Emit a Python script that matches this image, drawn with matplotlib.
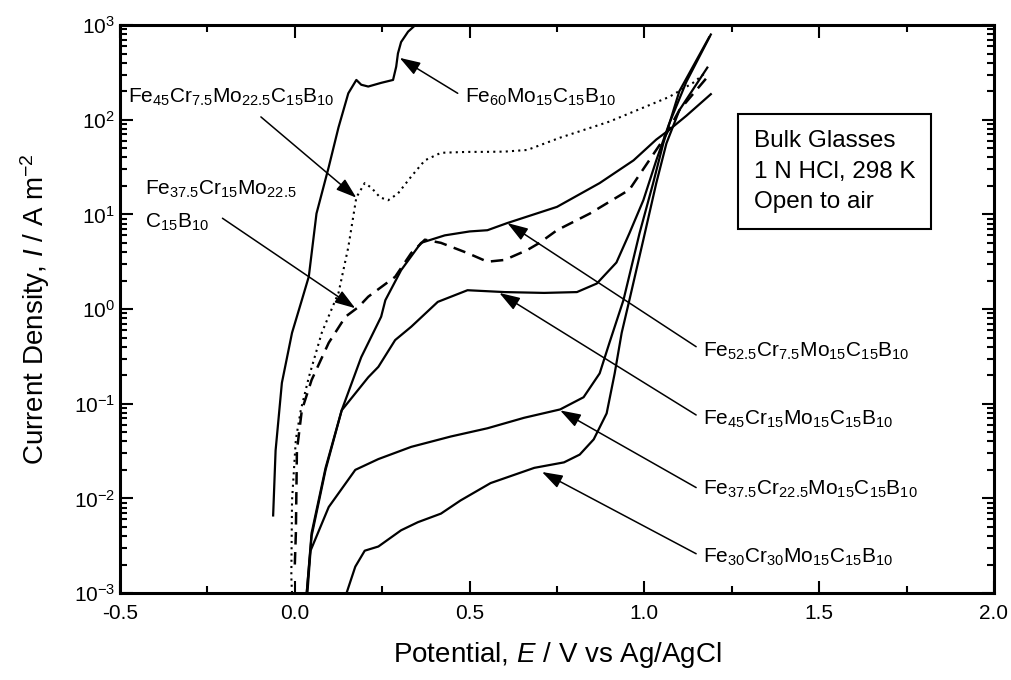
import numpy as np
import matplotlib
matplotlib.use("Agg")
import matplotlib.pyplot as plt
from matplotlib.ticker import LogLocator, MultipleLocator, NullFormatter

plt.rcParams['font.family'] = 'Liberation Sans'
plt.rcParams['mathtext.fontset'] = 'custom'
plt.rcParams['mathtext.rm'] = 'Liberation Sans'
plt.rcParams['mathtext.it'] = 'Liberation Sans:italic'
plt.rcParams['axes.unicode_minus'] = False

# polarization curves: potential E (V vs Ag/AgCl), current density I (A m^-2)
E_fe60 = [-0.062, -0.055, -0.037, -0.008, 0.02, 0.04, 0.062, 0.097, 0.125, 0.153,
          0.176, 0.19, 0.21, 0.247, 0.281, 0.29, 0.295, 0.304, 0.324, 0.345]
I_fe60 = [6.6e-3, 3.2e-2, 0.166, 0.56, 1.24, 2.2, 10.2, 31.6, 83, 190,
          263, 234, 224, 245, 263, 363, 501, 661, 851, 1000]

E_cr75mo225 = [-0.008, -0.01, -0.008, 0.003, 0.017, 0.04, 0.077, 0.116, 0.125, 0.153,
               0.176, 0.20, 0.219, 0.244, 0.267, 0.295, 0.333, 0.372, 0.418, 0.494,
               0.54, 0.60, 0.665, 0.759, 0.90, 1.071, 1.139, 1.176]
I_cr75mo225 = [1e-3, 1.48e-3, 9.5e-3, 4.2e-2, 8.5e-2, 0.19, 0.56, 1.24, 1.48, 4.5,
               15.1, 21.4, 19.1, 15.1, 14.1, 16.6, 25.1, 37.2, 44.7, 45.7,
               45.7, 46.0, 47.9, 64.6, 95.5, 174, 245, 316]

E_cr15mo225 = [0.0, 0.003, 0.006, 0.02, 0.048, 0.097, 0.145, 0.182, 0.21, 0.287,
               0.333, 0.372, 0.418, 0.494, 0.551, 0.60, 0.665, 0.70, 0.75, 0.844,
               0.957, 1.01, 1.054, 1.10, 1.18]
I_cr15mo225 = [2.0e-3, 4.3e-3, 3.2e-2, 8.5e-2, 0.178, 0.44, 0.83, 1.05, 1.35, 2.19,
               3.9, 5.4, 5.0, 3.9, 3.16, 3.3, 4.2, 5.0, 6.8, 10.2,
               18.2, 35.5, 61.7, 126, 282]

E_cr75 = [0.034, 0.048, 0.088, 0.134, 0.19, 0.247, 0.259, 0.304, 0.361, 0.429,
          0.50, 0.551, 0.608, 0.75, 0.872, 0.969, 1.034, 1.07, 1.12, 1.19]
I_cr75 = [1e-3, 4.3e-3, 2.1e-2, 8.5e-2, 0.31, 0.83, 1.24, 2.57, 5.0, 6.0,
          6.6, 6.8, 8.1, 12.0, 21.4, 37.2, 61.7, 77.6, 110, 186]

E_cr15 = [0.034, 0.048, 0.088, 0.134, 0.21, 0.239, 0.287, 0.333, 0.409, 0.494,
          0.60, 0.713, 0.807, 0.864, 0.92, 0.957, 0.997, 1.034, 1.07, 1.12, 1.19]
I_cr15 = [1e-3, 4.0e-3, 2.0e-2, 8.5e-2, 0.19, 0.245, 0.47, 0.65, 1.19, 1.58,
          1.51, 1.48, 1.51, 1.86, 3.1, 6.3, 14.1, 37.2, 89, 251, 794]

E_cr225 = [0.036, 0.045, 0.097, 0.173, 0.239, 0.333, 0.446, 0.551, 0.656, 0.759,
           0.826, 0.872, 0.90, 0.94, 0.986, 1.025, 1.054, 1.10, 1.185]
I_cr225 = [1e-3, 2.8e-3, 8.1e-3, 2.0e-2, 2.6e-2, 3.5e-2, 4.5e-2, 5.5e-2, 7.1e-2, 8.7e-2,
           0.117, 0.209, 0.44, 1.24, 6.3, 21.4, 56.2, 200, 741]

E_cr30 = [0.148, 0.173, 0.20, 0.239, 0.304, 0.352, 0.418, 0.474, 0.56, 0.685,
          0.77, 0.815, 0.855, 0.892, 0.915, 0.935, 0.957, 0.997, 1.034, 1.063,
          1.10, 1.18]
I_cr30 = [1e-3, 1.9e-3, 2.8e-3, 3.1e-3, 4.6e-3, 5.6e-3, 6.9e-3, 9.5e-3, 1.45e-2, 2.1e-2,
          2.4e-2, 2.9e-2, 4.2e-2, 7.9e-2, 0.209, 0.56, 1.24, 5.4, 21.4, 56.2,
          126, 355]

fig = plt.figure(figsize=(10.12, 6.8), dpi=100)
ax = fig.add_axes([0.1186, 0.1279, 0.8636, 0.8353])

lw = 1.6
ax.plot(E_fe60, I_fe60, 'k-', lw=lw)
ax.plot(E_cr75mo225, I_cr75mo225, color='k', lw=1.5, ls=(0, (1, 2)))
ax.plot(E_cr15mo225, I_cr15mo225, color='k', lw=1.8, ls=(0, (5, 3)))
ax.plot(E_cr75, I_cr75, 'k-', lw=lw)
ax.plot(E_cr15, I_cr15, 'k-', lw=lw)
ax.plot(E_cr225, I_cr225, 'k-', lw=lw)
ax.plot(E_cr30, I_cr30, 'k-', lw=lw)

ax.set_yscale('log')
ax.set_xlim(-0.5, 2.0)
ax.set_ylim(1e-3, 1e3)
ax.xaxis.set_major_locator(MultipleLocator(0.5))
ax.xaxis.set_minor_locator(MultipleLocator(0.25))
ax.xaxis.set_major_formatter(plt.FuncFormatter(lambda v, p: '%.1f' % v))
ax.yaxis.set_major_locator(LogLocator(base=10, numticks=10))
ax.yaxis.set_minor_locator(LogLocator(base=10, subs=np.arange(2, 10), numticks=10))
ax.yaxis.set_minor_formatter(NullFormatter())

ax.tick_params(which='both', direction='in', top=True, right=True, width=1.5, labelsize=15)
ax.tick_params(which='major', length=9)
ax.tick_params(which='minor', length=5)
ax.tick_params(axis='x', pad=8)
for s in ax.spines.values():
    s.set_linewidth(2.2)

ax.set_xlabel('Potential, $E$ / V vs Ag/AgCl', fontsize=20, labelpad=12)
ax.set_ylabel('Current Density, $I$ / A m$^{-2}$', fontsize=20, labelpad=16)

# arrows from labels to curves
arrow = dict(arrowstyle='-|>,head_length=0.9,head_width=0.3', color='k', lw=1.1,
             mutation_scale=14, shrinkA=0, shrinkB=0)
arrows = [
    ((0.30, 450), (0.466, 190)),
    ((0.176, 15), (-0.097, 107)),
    ((0.173, 1.02), (-0.207, 9.1)),
    ((0.608, 8.1), (1.148, 0.40)),
    ((0.585, 1.48), (1.148, 0.076)),
    ((0.759, 0.085), (1.148, 0.013)),
    ((0.707, 0.019), (1.148, 0.0026)),
]
for tip, tail in arrows:
    ax.annotate('', xy=tip, xytext=tail, arrowprops=arrow)

fs = 15
labels = [
    (0.486, 150, 'Fe$_{60}$Mo$_{15}$C$_{15}$B$_{10}$'),
    (-0.477, 150, 'Fe$_{45}$Cr$_{7.5}$Mo$_{22.5}$C$_{15}$B$_{10}$'),
    (-0.429, 16, 'Fe$_{37.5}$Cr$_{15}$Mo$_{22.5}$'),
    (-0.429, 7.2, 'C$_{15}$B$_{10}$'),
    (1.168, 0.311, 'Fe$_{52.5}$Cr$_{7.5}$Mo$_{15}$C$_{15}$B$_{10}$'),
    (1.168, 0.0596, 'Fe$_{45}$Cr$_{15}$Mo$_{15}$C$_{15}$B$_{10}$'),
    (1.168, 0.0108, 'Fe$_{37.5}$Cr$_{22.5}$Mo$_{15}$C$_{15}$B$_{10}$'),
    (1.168, 0.00207, 'Fe$_{30}$Cr$_{30}$Mo$_{15}$C$_{15}$B$_{10}$'),
]
for x, y, s in labels:
    ax.text(x, y, s, fontsize=fs, ha='left', va='baseline')

ax.text(0.7254, 0.815, 'Bulk Glasses\n1 N HCl, 298 K\nOpen to air', transform=ax.transAxes,
        fontsize=17.5, ha='left', va='top', linespacing=1.5,
        bbox=dict(boxstyle='square,pad=0.65', fc='white', ec='k', lw=1.5))

fig.savefig('out.png', dpi=100)
